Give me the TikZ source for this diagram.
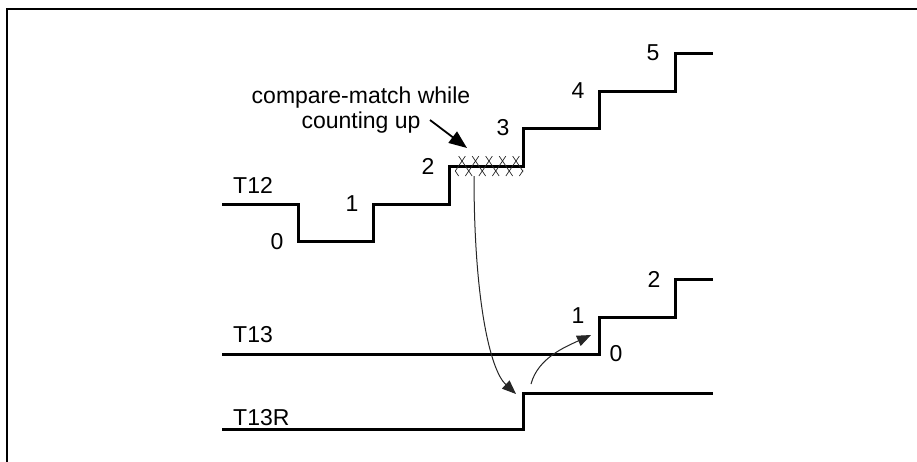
\documentclass[tikz,border=0pt]{standalone}
\usepackage{fontspec}
\setmainfont{Liberation Sans}
\usetikzlibrary{arrows.meta}
\begin{document}
\begin{tikzpicture}[x=1pt,y=-1pt,
  wave/.style={line width=3pt, line join=miter},
  frame/.style={line width=2.4pt},
  lbl/.style={inner sep=0pt, font=\fontsize{23}{25}\selectfont},
  thinarrow/.style={line width=1pt, black!85, -{Triangle[length=14pt,width=11pt]}},
  pointer/.style={line width=1.8pt, -{Triangle[length=18pt,width=14pt]}},
  hatch/.style={line width=0.7pt, black!85}]
\useasboundingbox (0,0) rectangle (917,461);
% frame
\draw[frame] (7,470) -- (7,9) -- (925,9);
% T12
\draw[wave] (222,204) -- (298,204) -- (298,241) -- (373,241) -- (373,204)
  -- (449,204) -- (449,166) -- (523,166) -- (523,128) -- (599,128)
  -- (599,91) -- (675,91) -- (675,53) -- (713,53);
% T13
\draw[wave] (222,354) -- (599,354) -- (599,317) -- (675,317) -- (675,279) -- (713,279);
% T13R
\draw[wave] (222,429) -- (523,429) -- (523,393) -- (713,393);
% hatch
\begin{scope}
  \clip (455,156) rectangle (523,176);
  \foreach \k in {-1,...,6} {
    \draw[hatch] ({462+13.5*\k-3.38},156) -- ({462+13.5*\k+10.13},176);
    \draw[hatch] ({462+13.5*\k+3.38},156) -- ({462+13.5*\k-10.13},176);
  }
\end{scope}
\coordinate (hs) at (474,176);
\coordinate (rt) at (516,394);
\coordinate (r2) at (531,384);
\coordinate (t1) at (591,335);
% labels
\node[lbl, anchor=west] (lT12) at (233,185) {T12};
\node[lbl, anchor=west] (lT13) at (233,335) {T13};
\node[lbl, anchor=west] (lT13R) at (233,418) {T13R};
\node[lbl] (a0) at (277,242) {0};
\node[lbl] (a1) at (352,204) {1};
\node[lbl] (a2) at (428,166) {2};
\node[lbl] (a3) at (503,128) {3};
\node[lbl] (a4) at (578,91) {4};
\node[lbl] (a5) at (653,53) {5};
\node[lbl] (b0) at (616,354) {0};
\node[lbl] (b1) at (578,316) {1};
\node[lbl] (b2) at (654,279) {2};
\node[lbl, align=center, anchor=base] (cm) at (361,128) {compare-match while\\counting up};
\coordinate (ptail) at (430,120);
\coordinate (ptip) at (467,148);
\draw[pointer] (ptail) -- (ptip);
% curved arrows
\draw[thinarrow] (hs) .. controls (474,300) and (490,370) .. (rt);
\draw[thinarrow] (r2) .. controls (538,358) and (565,347) .. (t1);
\end{tikzpicture}
\end{document}
